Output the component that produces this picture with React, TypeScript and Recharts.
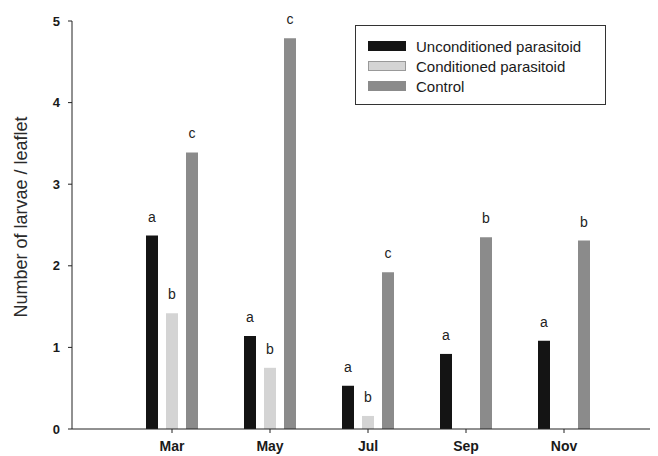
import React from 'react';
import { BarChart, Bar, XAxis, YAxis, Legend, LabelList } from 'recharts';

const months = ['Mar', 'May', 'Jul', 'Sep', 'Nov'];
const unconditioned = [2.37, 1.14, 0.53, 0.92, 1.08];
const conditioned = [1.42, 0.75, 0.16, 0, 0];
const control = [3.39, 4.79, 1.92, 2.35, 2.31];
const seriesNames = ['Unconditioned parasitoid', 'Conditioned parasitoid', 'Control'];

// letras de significância por série
const lettersUnconditioned = ['a', 'a', 'a', 'a', 'a'];
const lettersConditioned = ['b', 'b', 'b', '', ''];
const lettersControl = ['c', 'c', 'c', 'b', 'b'];

const yTicks = [0, 1, 2, 3, 4, 5];

const data = months.map((month, i) => ({
  month,
  unconditioned: unconditioned[i],
  conditioned: conditioned[i],
  control: control[i],
}));

const FONT = '"Liberation Sans", Arial, sans-serif';

const letterLabel = (letters: string[]) => (props: any) => {
  const { x, y, width, index, value } = props;
  const letter = letters[index];
  if (!letter || !value) return null;
  return (
    <text
      x={Number(x) + Number(width) / 2}
      y={Number(y) - 14}
      textAnchor="middle"
      fontFamily={FONT}
      fontSize={14}
      fill="#222"
    >
      {letter}
    </text>
  );
};

const YLabel = () => (
  <text
    x={19}
    y={209}
    transform="rotate(-90, 19, 209)"
    textAnchor="middle"
    fontFamily={FONT}
    fontSize={18}
    fill="#2a2a2a"
  >
    Number of larvae / leaflet
  </text>
);

const LegendBox = ({ payload }: any) => {
  // manter a ordem das séries como no original
  const items = [...(payload || [])].sort(
    (a: any, b: any) => seriesNames.indexOf(a.value) - seriesNames.indexOf(b.value)
  );
  return (
    <div
      style={{
        border: '1px solid #333',
        width: 251,
        height: 80,
        boxSizing: 'border-box',
        padding: '10px 0 0 12px',
        fontFamily: FONT,
        fontSize: 15,
        color: '#1a1a1a',
        background: '#fff',
      }}
    >
      {items.map((entry: any, i: number) => (
        <div key={`leg-${i}`} style={{ display: 'flex', alignItems: 'center', height: 20 }}>
          <div
            style={{
              width: 38,
              height: 10,
              background: entry.color,
              border: entry.value === seriesNames[1] ? '1px solid #999' : 'none',
              boxSizing: 'border-box',
              marginRight: 10,
            }}
          />
          <span>{entry.value}</span>
        </div>
      ))}
    </div>
  );
};

export default function App() {
  return (
    <BarChart
      width={650}
      height={448}
      data={data}
      margin={{ top: 13, right: 3, bottom: 0, left: 0 }}
      barSize={12}
      barGap={8}
    >
      <XAxis
        dataKey="month"
        height={27}
        padding={{ left: 51, right: 42 }}
        axisLine={{ stroke: '#222' }}
        tickLine={{ stroke: '#222' }}
        tickSize={4}
        tickMargin={8}
        tick={{ fill: '#1a1a1a', fontFamily: FONT, fontSize: 14, fontWeight: 'bold' }}
      />
      <YAxis
        width={64}
        domain={[0, 5]}
        ticks={yTicks}
        axisLine={{ stroke: '#222' }}
        tickLine={{ stroke: '#222' }}
        tickSize={4}
        tickMargin={8}
        tick={{ fill: '#1a1a1a', fontFamily: FONT, fontSize: 13, fontWeight: 'bold' }}
        label={() => <YLabel />}
      />
      <Legend
        layout="vertical"
        align="center"
        verticalAlign="middle"
        content={<LegendBox />}
        wrapperStyle={{ position: 'absolute', left: 347, top: 17, width: 251, height: 80 }}
      />
      <Bar dataKey="unconditioned" name={seriesNames[0]} fill="#141414" isAnimationActive={false}>
        <LabelList dataKey="unconditioned" content={letterLabel(lettersUnconditioned)} />
      </Bar>
      <Bar dataKey="conditioned" name={seriesNames[1]} fill="#d4d4d4" isAnimationActive={false}>
        <LabelList dataKey="conditioned" content={letterLabel(lettersConditioned)} />
      </Bar>
      <Bar dataKey="control" name={seriesNames[2]} fill="#8b8b8b" isAnimationActive={false}>
        <LabelList dataKey="control" content={letterLabel(lettersControl)} />
      </Bar>
    </BarChart>
  );
}
